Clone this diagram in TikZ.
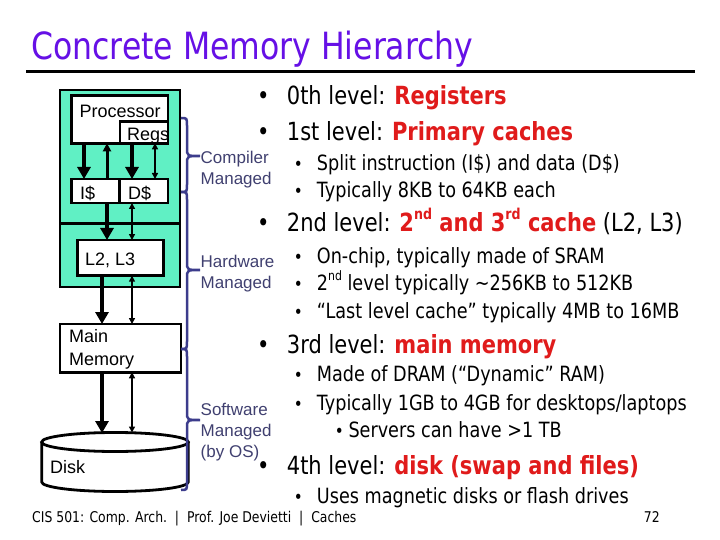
\documentclass[tikz,border=0pt]{standalone}
\usepackage{fontspec}
\usetikzlibrary{arrows.meta}
\newfontfamily\tah[FakeStretch=0.84]{DejaVu Sans}
\newfontfamily\arialf{Liberation Sans}
\definecolor{ttl}{HTML}{6610E6}
\definecolor{hot}{HTML}{E01B1B}
\definecolor{chipgreen}{HTML}{60F0C4}
\definecolor{bracec}{HTML}{3C3C8C}
\definecolor{sidec}{HTML}{404070}
\newcommand\vbrace[3]{% y1, ym, y2
  \draw[brc] (181,#1) .. controls (187,#1) .. (187,#1+8) -- (187,#2-8)
    .. controls (187,#2) .. (200,#2) .. controls (187,#2) .. (187,#2+8)
    -- (187,#3-8) .. controls (187,#3) .. (181,#3);}
\begin{document}
\begin{tikzpicture}[x=1pt,y=-1pt,
  box/.style={draw=black, line width=2.8pt, fill=white, inner sep=0pt, outer sep=0pt},
  greenbox/.style={draw=black, line width=2.8pt, fill=chipgreen, inner sep=0pt, outer sep=0pt},
  lbl/.style={font=\arialf\fontsize{18}{20}\selectfont, anchor=base west, inner sep=0pt},
  side/.style={font=\arialf\fontsize{17}{20}\selectfont, text=sidec, anchor=base west, inner sep=0pt},
  mainl/.style={font=\tah\fontsize{25}{28}\selectfont, anchor=base west, inner sep=0pt},
  subl/.style={font=\tah\fontsize{21}{24}\selectfont, anchor=base west, inner sep=0pt},
  mainb/.style={font=\tah\fontsize{25}{28}\selectfont, anchor=base, inner sep=0pt},
  subb/.style={font=\tah\fontsize{18}{20}\selectfont, anchor=base, inner sep=0pt},
  bigarr/.style={line width=3.5pt, -{Triangle[length=12pt,width=13pt]}},
  midarr/.style={line width=3pt, -{Triangle[length=8pt,width=8pt]}},
  dblarr/.style={line width=2pt, {Triangle[length=6pt,width=6pt]}-{Triangle[length=6pt,width=6pt]}},
  brc/.style={draw=bracec, line width=2.5pt}]
\useasboundingbox (0,0) rectangle (720,540);
\fill[white] (0,0) rectangle (720,540);
% title
\node[font=\tah\fontsize{37.5}{40}\selectfont, text=ttl, anchor=base west, inner sep=0pt] (title) at (31,60) {Concrete Memory Hierarchy};
\draw[line width=3pt] (26,72) -- (695,72);
% left diagram
\node[greenbox, minimum width=120pt, minimum height=133.3pt] (chip) at (120,156.65) {};
\node[greenbox, minimum width=120pt, minimum height=63.7pt] (l2zone) at (120,255.15) {};
\node[box, minimum width=96.3pt, minimum height=47.6pt] (proc) at (119.85,119.5) {};
\node[box, minimum width=48pt, minimum height=21.6pt] (regs) at (144,132.5) {};
\node[box, minimum width=47.6pt, minimum height=24pt] (ic) at (95.5,191) {};
\node[box, minimum width=48.7pt, minimum height=24pt] (dc) at (143.65,191) {};
\node[box, minimum width=85.6pt, minimum height=35.7pt] (l2) at (120.5,257.85) {};
\node[box, minimum width=121pt, minimum height=48.3pt] (mem) at (120.5,348.15) {};
% disk
\draw[line width=2.8pt, fill=white] (41.7,442) -- (41.7,482) arc[start angle=180, end angle=0, x radius=73.3, y radius=9.5] -- (188.3,442);
\draw[line width=2.8pt, fill=white] (115,442) ellipse [x radius=73.3, y radius=9.5];
\coordinate (disktop) at (115,433);
% arrow columns
\coordinate (cA) at (84,0);
\coordinate (cB) at (107,0);
\coordinate (cC) at (132,0);
\coordinate (cD) at (155,0);
\coordinate (cE) at (102,0);
\draw[bigarr] (proc.south -| cA) -- (ic.north -| cA);
\draw[midarr] (ic.north -| cB) -- (proc.south -| cB);
\draw[bigarr] (proc.south -| cC) -- (dc.north -| cC);
\draw[dblarr] (proc.south -| cD) -- (dc.north -| cD);
\draw[bigarr] (ic.south -| cB) -- (l2.north -| cB);
\draw[dblarr] (dc.south -| cC) -- (l2.north -| cC);
\draw[bigarr] (l2.south -| cE) -- (mem.north -| cE);
\draw[dblarr] (l2.south -| cC) -- (mem.north -| cC);
\draw[bigarr] (mem.south -| cE) -- (disktop -| cE);
\draw[dblarr] (mem.south -| cC) -- ([yshift=0.5pt]disktop -| cC);
% labels
\node[lbl] (tproc) at (79.5,117.3) {Processor};
\node[lbl] (tregs) at (127,140.7) {Regs};
\node[lbl] (ti) at (80,200) {I\$};
\node[lbl] (td) at (128,200) {D\$};
\node[lbl] (tl2) at (85,265) {L2, L3};
\node[lbl] (tmain) at (69,342.7) {Main};
\node[lbl] (tmemory) at (69,365) {Memory};
\node[lbl] (tdisk) at (50,473.3) {Disk};
% braces
\vbrace{118}{156}{192}
\vbrace{192}{270}{349}
\vbrace{349}{420}{490}
\node[side] (s1) at (200.5,164) {Compiler};
\node[side] (s2) at (200.5,185) {Managed};
\node[side] (s3) at (200.5,267.3) {Hardware};
\node[side] (s4) at (200.5,288.3) {Managed};
\node[side] (s5) at (200.5,415) {Software};
\node[side] (s6) at (200.5,436) {Managed};
\node[side] (s7) at (200.5,457) {(by OS)};
% right text
\node[mainb] (b1) at (263.3,105) {•};
\node[mainl] (t1) at (286.7,105) {0th level: \textcolor{hot}{\bfseries Registers}};
\node[mainb] (b2) at (263.3,140.7) {•};
\node[mainl] (t2) at (286.7,140.7) {1st level: \textcolor{hot}{\bfseries Primary caches}};
\node[subb] (b3) at (298.3,170.7) {•};
\node[subl] (t3) at (316.7,170.7) {Split instruction (I\$) and data (D\$)};
\node[subb] (b4) at (298.3,197.3) {•};
\node[subl] (t4) at (316.7,197.3) {Typically 8KB to 64KB each};
\node[mainb] (b5) at (263.3,231.5) {•};
\node[mainl] (t5) at (286.7,231.5) {2nd level: \textcolor{hot}{\bfseries 2\raisebox{0.5em}{\fontsize{15}{15}\selectfont nd} and 3\raisebox{0.5em}{\fontsize{15}{15}\selectfont rd} cache} (L2, L3)};
\node[subb] (b6) at (298.3,263.3) {•};
\node[subl] (t6) at (316.7,263.3) {On-chip, typically made of SRAM};
\node[subb] (b7) at (298.3,290.7) {•};
\node[subl] (t7) at (316.7,290.7) {2\raisebox{0.5em}{\fontsize{13}{13}\selectfont nd} level typically \textasciitilde256KB to 512KB};
\node[subb] (b8) at (298.3,318.3) {•};
\node[subl] (t8) at (316.7,318.3) {“Last level cache” typically 4MB to 16MB};
\node[mainb] (b9) at (263.3,353.3) {•};
\node[mainl] (t9) at (286.7,353.3) {3rd level: \textcolor{hot}{\bfseries main memory}};
\node[subb] (b10) at (298.3,381.7) {•};
\node[subl] (t10) at (316.7,381.7) {Made of DRAM (“Dynamic” RAM)};
\node[subb] (b11) at (298.3,410) {•};
\node[subl] (t11) at (316.7,410) {Typically 1GB to 4GB for desktops/laptops};
\node[subb] (b12) at (339.3,437.7) {•};
\node[subl] (t12) at (348.3,437.7) {Servers can have >1 TB};
\node[mainb] (b13) at (263.3,474.3) {•};
\node[mainl] (t13) at (286.7,474.3) {4th level: \textcolor{hot}{\bfseries disk (swap and files)}};
\node[subb] (b14) at (298.3,503.3) {•};
\node[subl] (t14) at (316.7,503.3) {Uses magnetic disks or flash drives};
% footer
\node[font=\tah\fontsize{14.8}{16}\selectfont, anchor=base west, inner sep=0pt] (foot) at (32,522) {CIS 501: Comp. Arch.\ \ |\ \ Prof. Joe Devietti\ \ |\ \ Caches};
\node[font=\tah\fontsize{14.8}{16}\selectfont, anchor=base east, inner sep=0pt] (pnum) at (660,522) {72};
\end{tikzpicture}
\end{document}
